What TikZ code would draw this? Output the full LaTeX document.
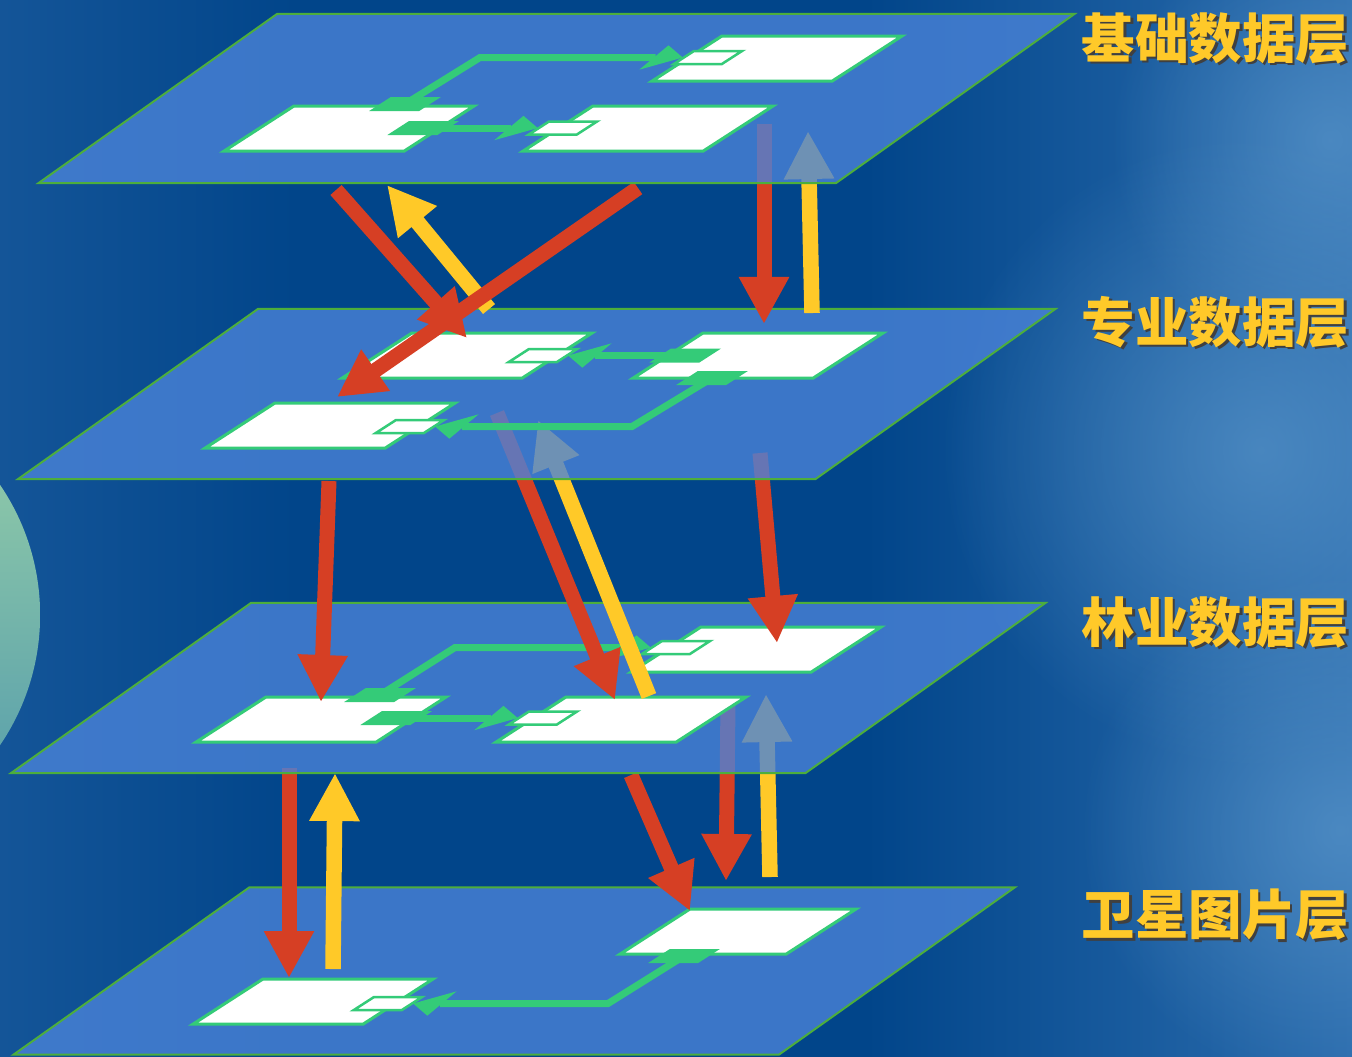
\documentclass[tikz,border=0pt]{standalone}
\usepackage{fontspec}
\newfontfamily\cjk{Noto Sans CJK SC}
\usetikzlibrary{arrows.meta,fadings}

\definecolor{bgleft}{HTML}{145598}
\definecolor{bgmid}{HTML}{01458A}
\definecolor{bgright}{HTML}{2C6DAE}
\definecolor{glowblue}{HTML}{5C98CC}
\definecolor{layerblue}{HTML}{4A83D8}
\definecolor{layeredge}{HTML}{4DAE3C}
\definecolor{linkgreen}{HTML}{34CB78}
\definecolor{fetchred}{HTML}{D63F24}
\definecolor{feedyellow}{HTML}{FFC928}
\definecolor{tagyellow}{HTML}{FFC929}
\definecolor{globetop}{HTML}{9AD2A8}
\definecolor{globebot}{HTML}{4F98AC}

\pgfdeclarehorizontalshading{backdrop}{100bp}{color(0bp)=(bgleft); color(25bp)=(bgleft);
  color(36bp)=(bgmid); color(57bp)=(bgmid); color(75bp)=(bgright); color(100bp)=(bgright)}
\tikzfading[name=softglow, inner color=transparent!35, outer color=transparent!100]

\tikzset{
  layer/.style={rectangle, xslant=1.41, inner sep=0pt, outer sep=0pt,
    draw=layeredge, line width=0.02cm, fill=layerblue, fill opacity=0.8},
  slab/.style={rectangle, xslant=1.55, inner sep=0pt, outer sep=0pt},
  card/.style={slab, fill=white, draw=linkgreen, line width=0.03cm,
    minimum width=1.8cm, minimum height=0.45cm},
  port/.style={slab, fill=linkgreen, minimum width=0.5cm, minimum height=0.14cm},
  tab/.style={slab, fill=white, draw=linkgreen, line width=0.025cm,
    minimum width=0.48cm, minimum height=0.13cm},
  link/.style={draw=linkgreen, line width=0.07cm,
    -{Triangle[length=0.3cm,width=0.22cm,slant=1.2]}},
  fetch/.style={draw=fetchred, line width=0.15cm, -{Triangle[length=0.47cm,width=0.47cm]}},
  feed/.style={draw=feedyellow, line width=0.155cm, -{Triangle[length=0.48cm,width=0.47cm]}},
  tag/.style={font=\cjk\bfseries\fontsize{15.2pt}{18pt}\selectfont, text=tagyellow,
    inner sep=0pt, anchor=west},
}

\begin{document}
\begin{tikzpicture}[x=0.01cm, y=-0.01cm]
  \useasboundingbox (0,0) rectangle (1352,1056);
  \shade[shading=backdrop] (0,0) rectangle (1352,1056);
  \fill[glowblue, path fading=softglow] (1330,140) circle (2.2cm);
  \fill[glowblue, path fading=softglow] (1260,450) circle (3.2cm);
  \fill[glowblue, path fading=softglow] (1340,830) circle (2.6cm);
  \shade[top color=globetop, bottom color=globebot] (-191,615) circle (2.31cm);

  % satellite layer
  \node[layer, minimum width=7.65cm, minimum height=1.67cm] (L4) at (514.1,971) {};
  \node[card, minimum width=1.7cm] (p4A) at (313.1,1001.5) {};
  \node[card, minimum width=1.66cm] (p4B) at (738.1,931.5) {};
  \node[port] (p4Bs) at (684,956) {};
  \node[tab] (p4At) at (387.9,1003.5) {};
  \draw[link] (p4Bs.center) -- ++(-76,47.5) -- (p4At.east);

  \coordinate (r10a) at (289,768);  \coordinate (r10b) at (289,978);
  \coordinate (y11a) at (333,969);  \coordinate (y11b) at (335,773);
  \coordinate (r12a) at (631,775);  \coordinate (r12b) at (690,911);
  \coordinate (r13a) at (728,703);  \coordinate (r13b) at (726,881);
  \coordinate (y14a) at (770,877);  \coordinate (y14b) at (766,694);
  \draw[fetch] (r10a) -- (r10b);
  \draw[feed] (y11a) -- (y11b);
  \draw[fetch] (r12a) -- (r12b);
  \draw[fetch] (r13a) -- (r13b);
  \draw[feed] (y14a) -- (y14b);

  % forestry layer
  \node[layer, minimum width=7.94cm, minimum height=1.7cm] (L3) at (528.2,688) {};
  \node[card] (p3A) at (321.1,719.5) {};
  \node[card] (p3B) at (621.1,719.5) {};
  \node[card] (p3C) at (756.1,649.5) {};
  \node[port] (p3An) at (380,695) {};
  \node[port] (p3Ae) at (396.2,718) {};
  \node[tab] (p3Bt) at (542.9,718) {};
  \node[tab] (p3Ct) at (675.9,647.5) {};
  \draw[link] (p3An.center) -- ++(75,-47.5) -- (p3Ct.west);
  \draw[link] (p3Ae.center) -- (p3Bt.west);

  \coordinate (r6a) at (329,481);  \coordinate (r6b) at (321,702);
  \coordinate (r7a) at (497,413);  \coordinate (r7b) at (615,700);
  \coordinate (y8a) at (649,696);  \coordinate (y8b) at (538,420);
  \coordinate (r9a) at (760,453);  \coordinate (r9b) at (777,643);
  \draw[fetch] (r6a) -- (r6b);
  \draw[fetch] (r7a) -- (r7b);
  \draw[feed] (y8a) -- (y8b);
  \draw[fetch] (r9a) -- (r9b);

  % professional layer
  \node[layer, minimum width=7.97cm, minimum height=1.7cm] (L2) at (536.7,394) {};
  \node[card] (p2A) at (467.1,355.5) {};
  \node[card] (p2B) at (758.1,355.5) {};
  \node[card] (p2C) at (330.1,425.5) {};
  \node[port] (p2Bw) at (685.2,355.5) {};
  \node[port] (p2Bs) at (712,378) {};
  \node[tab] (p2At) at (542.9,355.5) {};
  \node[tab] (p2Ct) at (409.9,426.5) {};
  \draw[link] (p2Bw.center) -- (p2At.east);
  \draw[link] (p2Bs.center) -- ++(-80,48.5) -- (p2Ct.east);

  \coordinate (r1a) at (336,190);  \coordinate (r1b) at (467,338);
  \coordinate (y2a) at (489,309);  \coordinate (y2b) at (387,185);
  \coordinate (r3a) at (638,188);  \coordinate (r3b) at (337,397);
  \coordinate (r4a) at (764,124);  \coordinate (r4b) at (764,324);
  \coordinate (y5a) at (812,313);  \coordinate (y5b) at (808,131);
  \draw[fetch] (r1a) -- (r1b);
  \draw[feed] (y2a) -- (y2b);
  \draw[fetch] (r3a) -- (r3b);
  \draw[fetch] (r4a) -- (r4b);
  \draw[feed] (y5a) -- (y5b);

  % base layer
  \node[layer, minimum width=7.97cm, minimum height=1.69cm] (L1) at (556.5,98.5) {};
  \node[card] (p1A) at (777.1,58.5) {};
  \node[card] (p1B) at (349.1,128.5) {};
  \node[card] (p1C) at (648.1,128.5) {};
  \node[port] (p1Bn) at (405,104) {};
  \node[port] (p1Be) at (423.2,128) {};
  \node[tab] (p1At) at (707.9,57.5) {};
  \node[tab] (p1Ct) at (562.9,128) {};
  \draw[link] (p1Bn.center) -- ++(75,-46.5) -- (p1At.west);
  \draw[link] (p1Be.center) -- (p1Ct.west);

  % layer names
  \node[tag, text=black!75] (tag1s) at (1083.5,40.5) {基础数据层};
  \node[tag] (tag1) at (1081,38) {基础数据层};
  \node[tag, text=black!75] (tag2s) at (1083.5,324.5) {专业数据层};
  \node[tag] (tag2) at (1081,322) {专业数据层};
  \node[tag, text=black!75] (tag3s) at (1083.5,624.5) {林业数据层};
  \node[tag] (tag3) at (1081,622) {林业数据层};
  \node[tag, text=black!75] (tag4s) at (1083.5,917.5) {卫星图片层};
  \node[tag] (tag4) at (1081,915) {卫星图片层};
\end{tikzpicture}
\end{document}
